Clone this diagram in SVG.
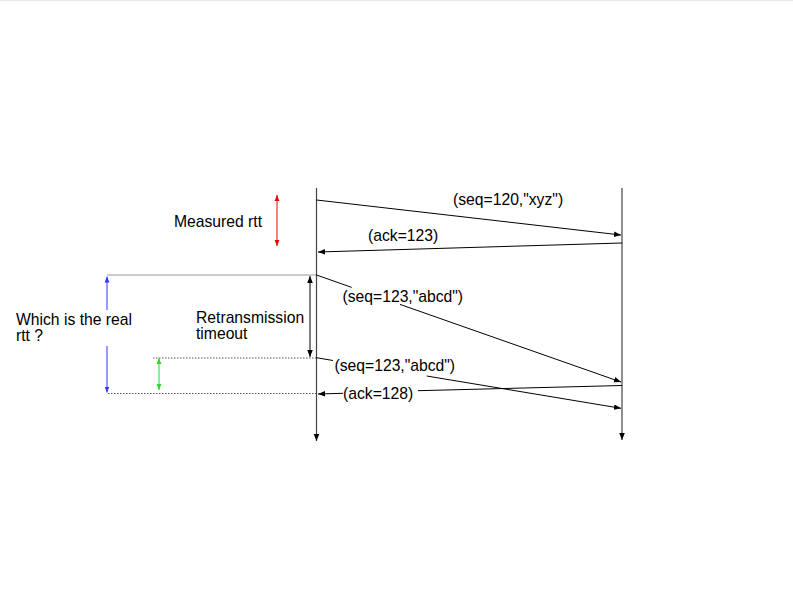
<svg xmlns="http://www.w3.org/2000/svg" width="793" height="595" viewBox="0 0 793 595">
<style>
text{font-family:"Liberation Sans",Arial,sans-serif;font-size:15.7px;fill:#000}
.ln{stroke:#000;stroke-width:1;fill:none}
.tl{stroke:#444;stroke-width:1.2;fill:none}
.dot{stroke:#555;stroke-width:1;stroke-dasharray:1.5 1.5;fill:none}
</style>
<defs>
<marker id="ah" viewBox="0 0 10 10" refX="10" refY="5" markerWidth="7" markerHeight="7" markerUnits="userSpaceOnUse" orient="auto-start-reverse"><path d="M0,1 L10,5 L0,9 z" fill="#000"/></marker>
<marker id="ahr" viewBox="0 0 10 10" refX="10" refY="5" markerWidth="6" markerHeight="6" markerUnits="userSpaceOnUse" orient="auto-start-reverse"><path d="M0,1 L10,5 L0,9 z" fill="#e00"/></marker>
<marker id="ahb" viewBox="0 0 10 10" refX="10" refY="5" markerWidth="6" markerHeight="6" markerUnits="userSpaceOnUse" orient="auto-start-reverse"><path d="M0,1 L10,5 L0,9 z" fill="#33f"/></marker>
<marker id="ahg" viewBox="0 0 10 10" refX="10" refY="5" markerWidth="6" markerHeight="6" markerUnits="userSpaceOnUse" orient="auto-start-reverse"><path d="M0,1 L10,5 L0,9 z" fill="#2d2"/></marker>
</defs>
<rect width="793" height="595" fill="#fff"/>
<line x1="0" y1="0.5" x2="793" y2="0.5" stroke="#e8e8e8" stroke-width="1"/>
<g id="timelines">
<line id="client" class="tl" x1="316.5" y1="188" x2="316.5" y2="441" marker-end="url(#ah)"/>
<line id="server" class="tl" x1="622" y1="188" x2="622" y2="440" marker-end="url(#ah)"/>
</g>
<g id="guides">
<line x1="107" y1="275" x2="316" y2="275" stroke="#999" stroke-width="1.2"/>
<line class="dot" x1="153" y1="358" x2="316" y2="358"/>
<line class="dot" x1="108" y1="393.5" x2="316" y2="393.5"/>
</g>
<g id="connectors">
<line class="ln" x1="316.5" y1="200" x2="621" y2="235" marker-end="url(#ah)"/>
<line class="ln" x1="622" y1="243" x2="318" y2="252" marker-end="url(#ah)"/>
<path class="ln" d="M316.5,275 L351.7,287.4 M400,304.4 L621,382" marker-end="url(#ah)"/>
<path class="ln" d="M316.5,357.7 L333,360.5 M426.7,376 L621,408.3" marker-end="url(#ah)"/>
<path class="ln" d="M622,385.5 L418,390.7 M343,393.3 L318,394" marker-end="url(#ah)"/>
</g>
<g id="measures">
<line x1="277" y1="195" x2="277" y2="246" stroke="#e00" stroke-width="1" marker-start="url(#ahr)" marker-end="url(#ahr)"/>
<line x1="310" y1="276" x2="310" y2="357" stroke="#000" stroke-width="1" marker-start="url(#ah)" marker-end="url(#ah)"/>
<line x1="107" y1="310" x2="107" y2="276.5" stroke="#33f" stroke-width="1" marker-end="url(#ahb)"/>
<line x1="107" y1="346" x2="107" y2="392.5" stroke="#33f" stroke-width="1" marker-end="url(#ahb)"/>
<line x1="159" y1="358" x2="159" y2="390" stroke="#2d2" stroke-width="1" marker-start="url(#ahg)" marker-end="url(#ahg)"/>
</g>
<g id="labels">
<text x="453" y="204.5">(seq=120,"xyz")</text>
<text x="368" y="241">(ack=123)</text>
<text x="342.5" y="302">(seq=123,"abcd")</text>
<text x="334.5" y="370.5">(seq=123,"abcd")</text>
<text x="343" y="398.5">(ack=128)</text>
<text x="174" y="226.5">Measured rtt</text>
<text x="196" y="322.5">Retransmission</text>
<text x="196" y="338.5">timeout</text>
<text x="16" y="325">Which is the real</text>
<text x="16" y="341">rtt ?</text>
</g>
</svg>
